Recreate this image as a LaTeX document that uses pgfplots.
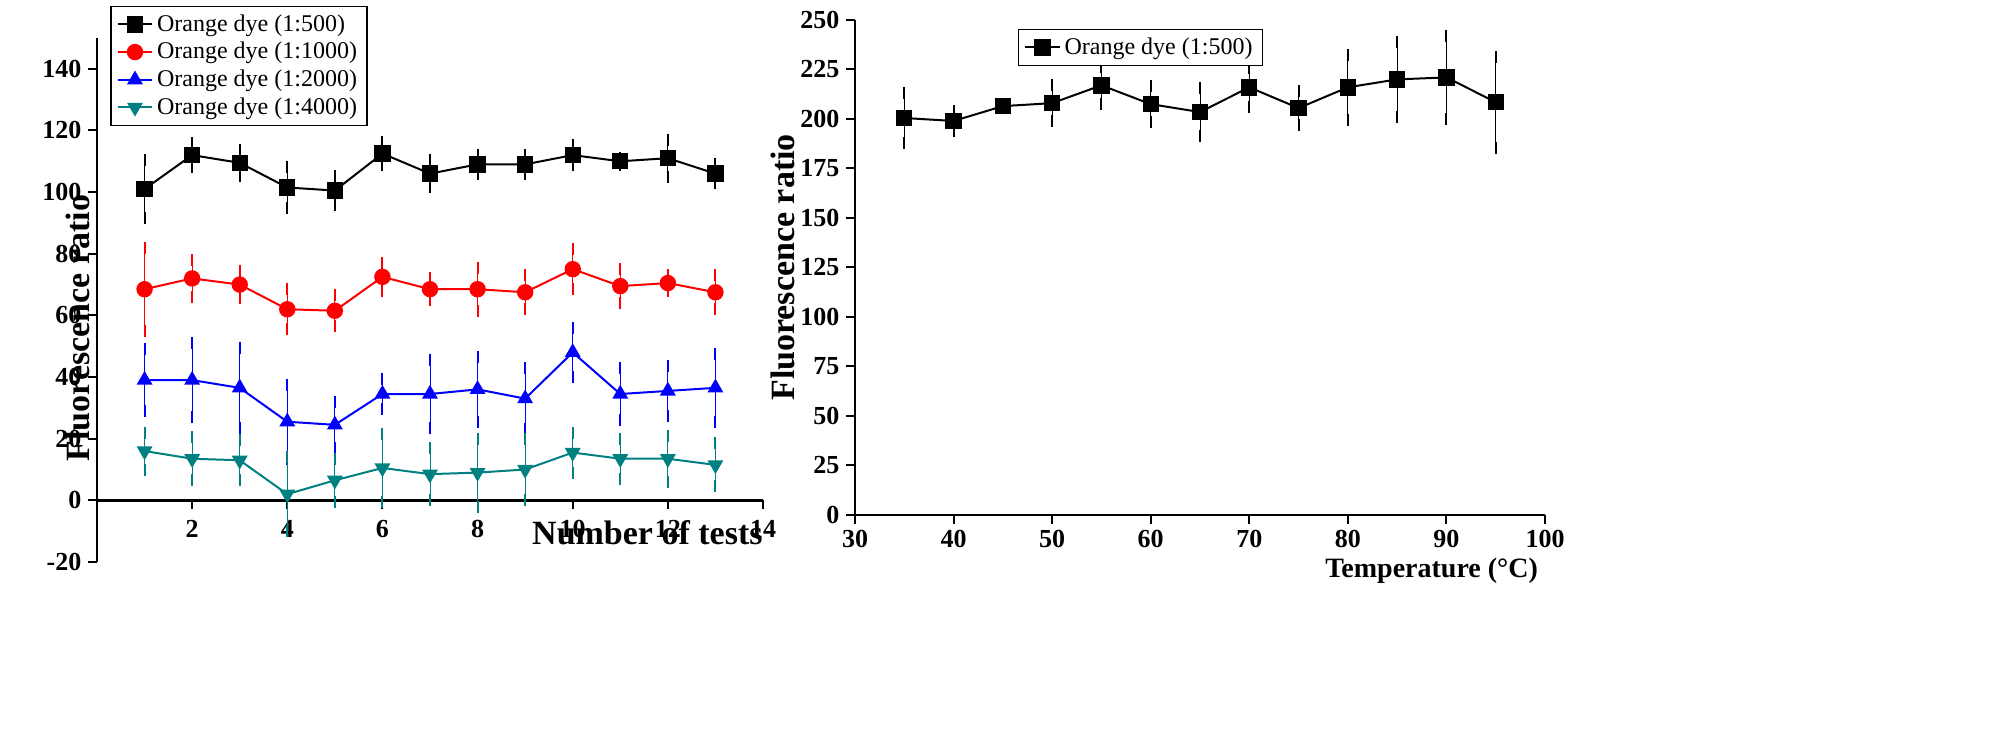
\documentclass[border=0pt]{standalone}
\usepackage{pgfplots}
\pgfplotsset{compat=1.18}
\usepackage{fontspec}
\setmainfont{Liberation Serif}
\definecolor{tealc}{RGB}{0,128,128}
\begin{document}
\begin{tikzpicture}
\path (0,0) rectangle (1003.5pt,368.5pt);
\pgfplotsset{every axis/.append style={scale only axis,
 /pgf/number format/assume math mode=true,
 tick label style={font=\bfseries\fontsize{13}{13}\selectfont},
 axis line style={line width=1.3pt}, tick style={line width=1pt,black},
 every axis plot/.append style={line width=1pt, mark size=3.6pt,
   error bars/y dir=both, error bars/y explicit,
   error bars/error mark options={mark size=3pt,line width=1pt}},
 legend style={font=\fontsize{12}{13}\selectfont, draw=black, line width=0.6pt},
 legend cell align=left}}
\begin{axis}[at={(48.5pt,87.5pt)}, anchor=south west, width=333pt, height=262pt,
 xmin=0, xmax=14, ymin=-20, ymax=150,
 axis x line=middle, axis y line=left, axis line style={-},
 xtick={0,2,...,14}, ytick={-20,0,20,...,140}, tick align=outside,
 x tick label style={yshift=-2pt},
 ylabel={\bfseries\fontsize{17}{17}\selectfont Fluorescence ratio},
 ylabel style={at={(rel axis cs:0,0.5)}, xshift=-14pt, yshift=0pt},
 legend style={at={(0.02,1)}, anchor=north west, yshift=16pt}]
\addplot[black, mark=square*] coordinates {(1,101)+-(0,9.3)(2,112)+-(0,4)(3,109.5)+-(0,4.3)(4,101.5)+-(0,6.8)(5,100.5)+-(0,4.8)(6,112.5)+-(0,3.8)(7,106)+-(0,4.3)(8,109)+-(0,3)(9,109)+-(0,3)(10,112)+-(0,3.3)(11,110)+-(0,1.2)(12,111)+-(0,6)(13,106)+-(0,3)};
\addlegendentry{Orange dye (1:500)}
\addplot[red, mark=*] coordinates {(1,68.5)+-(0,13.5)(2,72)+-(0,6)(3,70)+-(0,4.5)(4,62)+-(0,6.5)(5,61.5)+-(0,5)(6,72.5)+-(0,4.5)(7,68.5)+-(0,3.5)(8,68.5)+-(0,7)(9,67.5)+-(0,5.5)(10,75)+-(0,6.5)(11,69.5)+-(0,5.5)(12,70.5)+-(0,2.5)(13,67.5)+-(0,5.5)};
\addlegendentry{Orange dye (1:1000)}
\addplot[blue, mark=triangle*] coordinates {(1,39)+-(0,10)(2,39)+-(0,12)(3,36.5)+-(0,13)(4,25.5)+-(0,12)(5,24.5)+-(0,7.5)(6,34.5)+-(0,5)(7,34.5)+-(0,11)(8,36)+-(0,10.5)(9,33)+-(0,10)(10,48)+-(0,8)(11,34.5)+-(0,8.5)(12,35.5)+-(0,8)(13,36.5)+-(0,11)};
\addlegendentry{Orange dye (1:2000)}
\addplot[tealc, mark=triangle*, mark options={rotate=180}] coordinates {(1,16)+-(0,6)(2,13.5)+-(0,7)(3,13)+-(0,6.5)(4,2)+-(0,12)(5,6.5)+-(0,7)(6,10.5)+-(0,11)(7,8.5)+-(0,8.5)(8,9)+-(0,11)(9,10)+-(0,10)(10,15.5)+-(0,6.5)(11,13.5)+-(0,6.5)(12,13.5)+-(0,7.5)(13,11.5)+-(0,7)};
\addlegendentry{Orange dye (1:4000)}
\node[anchor=north east, font=\bfseries\fontsize{17}{17}\selectfont, inner sep=0pt] at (axis cs:14,-6.5) {Number of tests};
\node[anchor=north west, font=\bfseries\fontsize{15}{15}\selectfont] at (rel axis cs:-0.18,1.1) {A};
\end{axis}
\begin{axis}[at={(427.5pt,111pt)}, anchor=south west, width=345pt, height=247.5pt,
 xmin=30, xmax=100, ymin=0, ymax=250,
 axis x line=bottom, axis y line=left, axis line style={-},
 xtick={30,40,...,100}, ytick={0,25,...,250}, tick align=outside,
 xlabel={\bfseries\fontsize{14}{14}\selectfont Temperature (°C)},
 xlabel style={at={(rel axis cs:1,0)}, anchor=north east, yshift=-18pt},
 ylabel={\bfseries\fontsize{17}{17}\selectfont Fluorescence ratio},
 ylabel style={yshift=-4pt},
 legend style={at={(0.236,1)}, anchor=north west, yshift=-4.5pt}]
\addplot[black, mark=square*] coordinates {(35,200.5)+-(0,12.5)(40,199)+-(0,5)(45,206.5)+-(0,0)(50,208)+-(0,9)(55,217)+-(0,9.5)(60,207.5)+-(0,9)(65,203.5)+-(0,12)(70,216)+-(0,10)(75,205.5)+-(0,8.5)(80,216)+-(0,16.5)(85,220)+-(0,19)(90,221)+-(0,21)(95,208.5)+-(0,23)};
\addlegendentry{Orange dye (1:500)}
\node[anchor=north east, font=\bfseries\fontsize{15}{15}\selectfont] at (rel axis cs:-0.06,1.03) {B};
\end{axis}
\end{tikzpicture}
\end{document}
